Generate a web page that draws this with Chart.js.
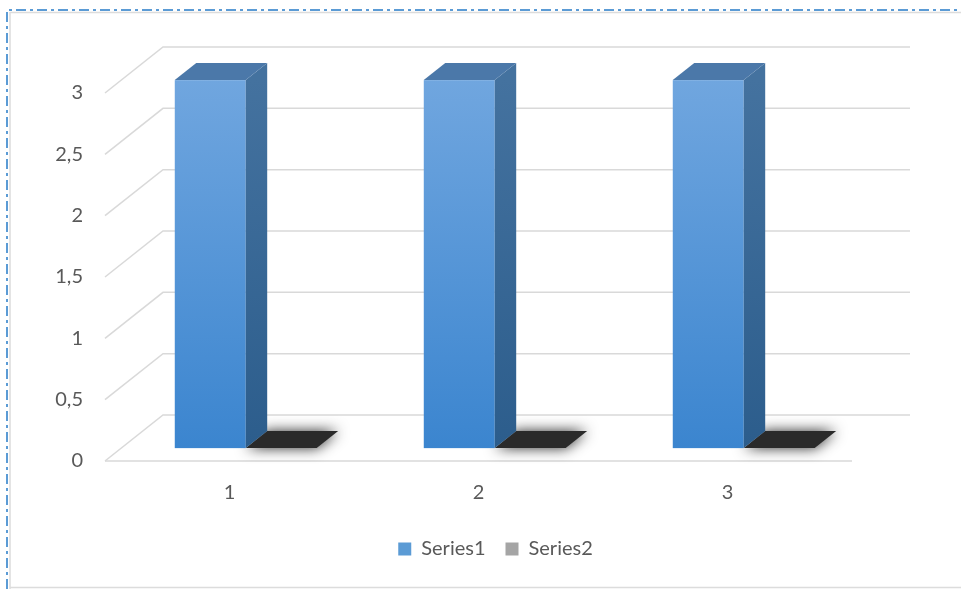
<!DOCTYPE html>
<html>
<head>
<meta charset="utf-8">
<script src="https://cdn.jsdelivr.net/npm/chart.js@4/dist/chart.umd.min.js"></script>
<style>
  html, body { margin: 0; padding: 0; background: #fff; }
  canvas { display: block; }
</style>
</head>
<body>
<canvas id="chart" width="961" height="589"></canvas>
<script>
// Date
const categories = ['1', '2', '3'];
const series1 = [3, 3, 3];
const series2 = [0, 0, 0];
const seriesNames = ['Series1', 'Series2'];
const seriesColors = ['#5b9bd5', '#a5a5a5'];

// Parametri pentru efectul 3D (adancimea podelei)
const DX = 58, DY = -46;
const FRONT = 0.28;   // unde incepe bara in adancime
const DEPTH = 0.37;   // grosimea barei in adancime

const textColor = '#595959';
const gridColor = '#d9d9d9';
const font = { family: 'Lato', size: 20 };

// Fundal, chenar punctat si peretele din spate
const wallPlugin = {
  id: 'wall',
  beforeDraw(chart) {
    const c = chart.ctx;
    c.save();
    c.fillStyle = '#fff';
    c.fillRect(0, 0, chart.width, chart.height);
    // chenar gri subtire
    c.strokeStyle = '#dcdcdc';
    c.lineWidth = 1.5;
    c.beginPath();
    c.moveTo(10, 589); c.lineTo(10, 12.5); c.lineTo(961, 12.5);
    c.moveTo(10, 587.5); c.lineTo(961, 587.5);
    c.stroke();
    // linia albastra punct-linie
    c.strokeStyle = '#5b9bd5';
    c.lineWidth = 2;
    c.setLineDash([10, 4, 3, 4]);
    c.beginPath();
    c.moveTo(7, 589); c.lineTo(7, 10); c.lineTo(961, 10);
    c.stroke();
    c.restore();
  },
  beforeDatasetsDraw(chart) {
    const c = chart.ctx;
    const y = chart.scales.y;
    const a = chart.chartArea;
    c.save();
    c.strokeStyle = gridColor;
    c.lineWidth = 1.5;
    y.ticks.forEach(t => {
      const py = y.getPixelForValue(t.value);
      c.beginPath();
      c.moveTo(a.left, py);
      c.lineTo(a.left + DX, py + DY);
      c.lineTo(a.right + DX, py + DY);
      c.stroke();
    });
    // linia din fata a podelei
    const py0 = y.getPixelForValue(0);
    c.beginPath();
    c.moveTo(a.left, py0);
    c.lineTo(a.right, py0);
    c.stroke();
    c.restore();
  },
  beforeDatasetDraw() {
    // barele sunt desenate manual in 3D
    return false;
  },
  afterDatasetsDraw(chart) {
    const c = chart.ctx;
    const ox = FRONT * DX, oy = FRONT * DY;
    const ddx = DEPTH * DX, ddy = DEPTH * DY;
    categories.forEach((cat, i) => {
      // mai intai seria 2 (placa plata), apoi seria 1
      [1, 0].forEach(ds => {
        const el = chart.getDatasetMeta(ds).data[i];
        const l = el.x - el.width / 2 + ox;
        const r = el.x + el.width / 2 + ox;
        const top = el.y + oy;
        const bot = el.base + oy;
        c.save();
        if (Math.abs(bot - top) < 0.5) {
          c.shadowColor = 'rgba(0,0,0,0.85)';
          c.shadowBlur = 14;
          c.fillStyle = '#2a2a2a';
          c.beginPath();
          c.moveTo(l, top); c.lineTo(r, top);
          c.lineTo(r + ddx, top + ddy); c.lineTo(l + ddx, top + ddy);
          c.closePath();
          c.fill();
          c.restore();
          return;
        }
        // fata
        let g = c.createLinearGradient(0, top, 0, bot);
        g.addColorStop(0, '#70a6df');
        g.addColorStop(1, '#3b85cf');
        c.fillStyle = g;
        c.fillRect(l, top, r - l, bot - top);
        // lateral
        g = c.createLinearGradient(0, top, 0, bot);
        g.addColorStop(0, '#44729f');
        g.addColorStop(1, '#2c5d8c');
        c.fillStyle = g;
        c.beginPath();
        c.moveTo(r, top); c.lineTo(r + ddx, top + ddy);
        c.lineTo(r + ddx, bot + ddy); c.lineTo(r, bot);
        c.closePath();
        c.fill();
        // capac
        c.fillStyle = '#4b78a9';
        c.beginPath();
        c.moveTo(l, top); c.lineTo(r, top);
        c.lineTo(r + ddx, top + ddy); c.lineTo(l + ddx, top + ddy);
        c.closePath();
        c.fill();
        c.restore();
      });
    });
  }
};

new Chart(document.getElementById('chart'), {
  type: 'bar',
  data: {
    labels: categories,
    datasets: [
      { label: seriesNames[0], data: series1, backgroundColor: seriesColors[0] },
      { label: seriesNames[1], data: series2, backgroundColor: seriesColors[1] }
    ]
  },
  options: {
    responsive: false,
    animation: false,
    devicePixelRatio: 1,
    categoryPercentage: 0.57,
    barPercentage: 1,
    layout: { padding: { top: 93, right: 0, left: 30, bottom: 20 } },
    scales: {
      x: {
        grid: { display: false, drawTicks: false },
        border: { display: false },
        ticks: { color: textColor, font: font, padding: 20 },
        afterFit(s) { s.height = 58; }
      },
      y: {
        min: 0,
        max: 3,
        grid: { display: false, drawTicks: false },
        border: { display: false },
        ticks: {
          stepSize: 0.5,
          color: textColor,
          padding: 22,
          font: font,
          callback: v => String(v).replace('.', ',')
        },
        afterFit(s) { s.width = 75; }
      },
      // axa goala in dreapta, lasa loc pentru peretele din spate
      right: {
        type: 'linear',
        position: 'right',
        grid: { display: false, drawTicks: false },
        border: { display: false },
        ticks: { display: false },
        afterFit(s) { s.width = 109; }
      }
    },
    plugins: {
      legend: {
        position: 'bottom',
        labels: {
          color: textColor,
          boxWidth: 13,
          boxHeight: 13,
          padding: 20,
          font: font
        }
      },
      tooltip: { enabled: false }
    }
  },
  plugins: [wallPlugin]
});
</script>
</body>
</html>
